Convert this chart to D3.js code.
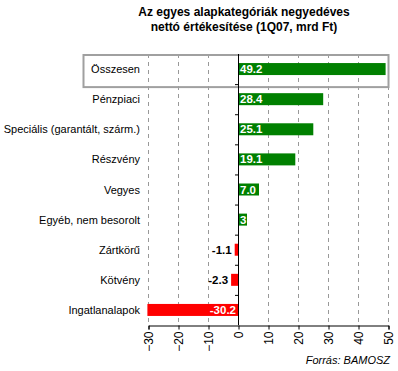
<!DOCTYPE html>
<html>
<head>
<meta charset="utf-8">
<script src="https://cdn.jsdelivr.net/npm/d3@7"></script>
<style>
  body { margin: 0; background: #fff; }
  text { font-family: "Liberation Sans", Arial, sans-serif; }
</style>
</head>
<body>
<script>
const categories = ["Összesen", "Pénzpiaci", "Speciális (garantált, szárm.)", "Részvény", "Vegyes", "Egyéb, nem besorolt", "Zártkörű", "Kötvény", "Ingatlanalapok"];
const values = [49.2, 28.4, 25.1, 19.1, 7.0, 3, -1.1, -2.3, -30.2];
const valueLabels = ["49.2", "28.4", "25.1", "19.1", "7.0", "3", "-1.1", "-2.3", "-30.2"];
const xTicks = [-30, -20, -10, 0, 10, 20, 30, 40, 50];
const titleLines = ["Az egyes alapkategóriák negyedéves", "nettó értékesítése (1Q07, mrd Ft)"];

const w = 398, h = 371;
const plotLeft = 148, plotRight = 388, plotTop = 54, plotBottom = 325;

const svg = d3.select('body').append('svg')
  .attr('width', w)
  .attr('height', h);

const x = d3.scaleLinear().domain([-30, 50]).range([plotLeft, plotRight]);
const y = d3.scaleBand().domain(categories).range([plotTop, plotBottom]);

// title
svg.selectAll('.title')
  .data(titleLines)
  .enter().append('text')
  .attr('x', 244)
  .attr('y', (d, i) => 16 + i * 15)
  .attr('text-anchor', 'middle')
  .attr('font-size', 12)
  .attr('font-weight', 'bold')
  .text(d => d);

// dashed grid
svg.selectAll('.grid')
  .data(xTicks.filter(d => d !== 0))
  .enter().append('line')
  .attr('x1', d => x(d) + 0.5).attr('x2', d => x(d) + 0.5)
  .attr('y1', plotTop).attr('y2', plotBottom)
  .attr('stroke', '#999')
  .attr('stroke-dasharray', '4,4');

// highlight box around first row
svg.append('rect')
  .attr('x', 83.5)
  .attr('y', plotTop + 1)
  .attr('width', plotRight - 83)
  .attr('height', y.bandwidth() + 2)
  .attr('fill', 'none')
  .attr('stroke', '#a0a0a0')
  .attr('stroke-width', 2);

// bars
const barH = 12;
svg.selectAll('.bar')
  .data(values)
  .enter().append('rect')
  .attr('x', d => x(Math.min(0, d)))
  .attr('y', (d, i) => y(categories[i]) + (y.bandwidth() - barH) / 2)
  .attr('width', d => Math.abs(x(d) - x(0)))
  .attr('height', barH)
  .attr('fill', d => d >= 0 ? '#008000' : '#ff0000');

// category labels
svg.selectAll('.cat')
  .data(categories)
  .enter().append('text')
  .attr('x', 140)
  .attr('y', d => y(d) + y.bandwidth() / 2 + 4)
  .attr('text-anchor', 'end')
  .attr('font-size', 11)
  .text(d => d);

// value labels
svg.selectAll('.val')
  .data(values)
  .enter().append('text')
  .attr('y', (d, i) => y(categories[i]) + y.bandwidth() / 2 + 4)
  .attr('x', d => {
    if (d >= 0) return x(0) + 2;
    if (Math.abs(x(d) - x(0)) > 30) return x(0) - 2;
    return x(d) - 3;
  })
  .attr('text-anchor', d => d >= 0 ? 'start' : 'end')
  .attr('font-size', 11.5)
  .attr('font-weight', 'bold')
  .attr('fill', d => (d >= 0 || Math.abs(x(d) - x(0)) > 30) ? '#fff' : '#000')
  .text((d, i) => valueLabels[i]);

// zero line with category ticks
svg.append('line')
  .attr('x1', x(0) + 0.5).attr('x2', x(0) + 0.5)
  .attr('y1', plotTop).attr('y2', plotBottom)
  .attr('stroke', '#000');

svg.selectAll('.ytick')
  .data(categories.slice(1))
  .enter().append('line')
  .attr('x1', x(0) - 3).attr('x2', x(0))
  .attr('y1', d => y(d) + 0.5).attr('y2', d => y(d) + 0.5)
  .attr('stroke', '#000');

// bottom axis
const xAxis = d3.axisBottom(x).tickValues(xTicks).tickSizeOuter(0).tickSize(4);
const gx = svg.append('g')
  .attr('transform', 'translate(0.5,' + (plotBottom + 0.5) + ')')
  .call(xAxis);
gx.select('.domain').attr('stroke', '#000');
gx.selectAll('.tick line').attr('stroke', '#000');
gx.selectAll('.tick text')
  .attr('font-size', 12)
  .attr('font-family', '"Liberation Sans", Arial, sans-serif')
  .attr('fill', '#000')
  .attr('transform', 'rotate(-90)')
  .attr('text-anchor', 'end')
  .attr('x', -6)
  .attr('y', 0)
  .attr('dy', '0.35em');

// source
svg.append('text')
  .attr('x', 390)
  .attr('y', 364)
  .attr('text-anchor', 'end')
  .attr('font-size', 11)
  .attr('font-style', 'italic')
  .text('Forrás: BAMOSZ');
</script>
</body>
</html>
